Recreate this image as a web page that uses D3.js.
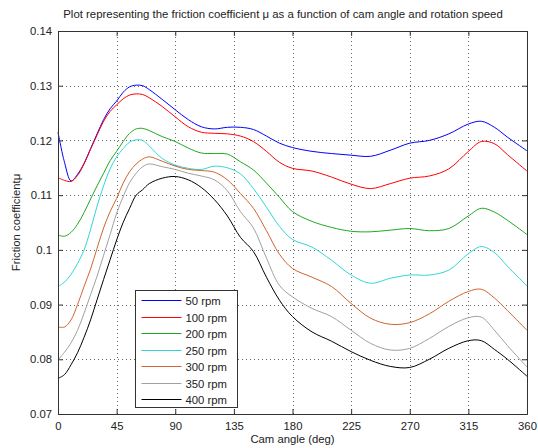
<!DOCTYPE html>
<html lang="en">
<head>
<meta charset="UTF-8">
<title>Friction coefficient</title>
<script src="https://d3js.org/d3.v7.min.js"></script>
<style>
  body { margin: 0; background: #fff; }
  text { font-family: "Liberation Sans", Arial, sans-serif; font-size: 11px; fill: #222; }
</style>
</head>
<body>
<script>
const w = 538;
const h = 448;
const margin = { top: 31, right: 11, bottom: 34, left: 58 };

// cam angle (deg), shared by every series
const angles = [0, 5, 10, 15, 20, 25, 30, 35, 40, 45, 50, 55, 60, 65, 70, 80, 90, 100, 110, 120,
                130, 140, 150, 160, 170, 180, 195, 210, 225, 240, 255, 270, 285, 300, 315, 325, 335, 345, 360];

const rpm50  = [0.1215, 0.1160, 0.1126, 0.1138, 0.1158, 0.1185, 0.1212, 0.1238, 0.1258, 0.1272, 0.1288, 0.1298, 0.1301, 0.1300, 0.1293, 0.1275, 0.1256, 0.1238, 0.1225, 0.1221,
                0.1224, 0.1224, 0.1220, 0.1208, 0.1195, 0.1187, 0.1180, 0.1176, 0.1173, 0.1171, 0.1182, 0.1195, 0.1200, 0.1212, 0.1230, 0.1235, 0.1224, 0.1206, 0.1181];
const rpm100 = [0.1132, 0.1127, 0.1125, 0.1136, 0.1157, 0.1184, 0.1210, 0.1235, 0.1253, 0.1265, 0.1276, 0.1283, 0.1285, 0.1284, 0.1278, 0.1262, 0.1243, 0.1225, 0.1215, 0.1213,
                0.1212, 0.1208, 0.1198, 0.1180, 0.1160, 0.1149, 0.1144, 0.1133, 0.1120, 0.1112, 0.1121, 0.1131, 0.1135, 0.1148, 0.1180, 0.1198, 0.1194, 0.1174, 0.1144];
const rpm200 = [0.1027, 0.1025, 0.1032, 0.1047, 0.1068, 0.1093, 0.1117, 0.1140, 0.1163, 0.1180, 0.1198, 0.1213, 0.1221, 0.1222, 0.1218, 0.1207, 0.1198, 0.1186, 0.1177, 0.1176,
                0.1175, 0.1161, 0.1146, 0.1122, 0.1096, 0.1070, 0.1052, 0.1041, 0.1034, 0.1033, 0.1036, 0.1039, 0.1035, 0.1039, 0.1062, 0.1076, 0.1069, 0.1054, 0.1028];
const rpm250 = [0.0933, 0.0941, 0.0955, 0.0975, 0.1000, 0.1037, 0.1080, 0.1117, 0.1148, 0.1170, 0.1185, 0.1197, 0.1201, 0.1200, 0.1190, 0.1167, 0.1155, 0.1149, 0.1147, 0.1153,
                0.1150, 0.1139, 0.1112, 0.1078, 0.1043, 0.1019, 0.1005, 0.0981, 0.0954, 0.0939, 0.0948, 0.0954, 0.0954, 0.0963, 0.0993, 0.1006, 0.0995, 0.0970, 0.0934];
const rpm300 = [0.0859, 0.0859, 0.0872, 0.0900, 0.0933, 0.0965, 0.1003, 0.1040, 0.1070, 0.1094, 0.1122, 0.1143, 0.1157, 0.1166, 0.1170, 0.1162, 0.1153, 0.1147, 0.1145, 0.1142,
                0.1128, 0.1103, 0.1076, 0.1035, 0.0992, 0.0966, 0.0950, 0.0933, 0.0902, 0.0875, 0.0864, 0.0867, 0.0883, 0.0906, 0.0924, 0.0928, 0.0912, 0.0889, 0.0853];
const rpm350 = [0.0799, 0.0813, 0.0830, 0.0853, 0.0884, 0.0918, 0.0952, 0.0990, 0.1028, 0.1067, 0.1097, 0.1123, 0.1140, 0.1152, 0.1157, 0.1152, 0.1147, 0.1140, 0.1135, 0.1128,
                0.1108, 0.1070, 0.1040, 0.0985, 0.0935, 0.0914, 0.0893, 0.0878, 0.0853, 0.0829, 0.0817, 0.0820, 0.0838, 0.0860, 0.0876, 0.0877, 0.0853, 0.0825, 0.0786];
const rpm400 = [0.0765, 0.0772, 0.0790, 0.0812, 0.0840, 0.0872, 0.0909, 0.0946, 0.0982, 0.1018, 0.1050, 0.1076, 0.1100, 0.1110, 0.1121, 0.1131, 0.1134, 0.1128, 0.1114, 0.1092,
                0.1062, 0.1023, 0.0997, 0.0950, 0.0908, 0.0878, 0.0850, 0.0833, 0.0814, 0.0798, 0.0787, 0.0785, 0.0800, 0.0820, 0.0834, 0.0834, 0.0818, 0.0800, 0.0769];

const seriesNames = ["50 rpm", "100 rpm", "200 rpm", "250 rpm", "300 rpm", "350 rpm", "400 rpm"];
const seriesValues = [rpm50, rpm100, rpm200, rpm250, rpm300, rpm350, rpm400];
const seriesColors = ["#0000ff", "#ff0000", "#1fa81f", "#33d6d6", "#d0642c", "#a0a0a0", "#000000"];

const xTicks = [0, 45, 90, 135, 180, 225, 270, 315, 360];
const yTicks = [0.07, 0.08, 0.09, 0.1, 0.11, 0.12, 0.13, 0.14];
const yTickLabels = ["0.07", "0.08", "0.09", "0.1", "0.11", "0.12", "0.13", "0.14"];

const svg = d3.select("body").append("svg")
    .attr("width", w)
    .attr("height", h);

const x = d3.scaleLinear().domain([0, 360]).range([margin.left, w - margin.right]);
const y = d3.scaleLinear().domain([0.07, 0.14]).range([h - margin.bottom, margin.top]);

// grid
svg.append("g")
   .selectAll("line")
   .data(xTicks.slice(1, -1))
   .enter().append("line")
   .attr("x1", d => Math.round(x(d)) + 0.5).attr("x2", d => Math.round(x(d)) + 0.5)
   .attr("y1", y(0.07)).attr("y2", y(0.14))
   .attr("stroke", "#666").attr("stroke-width", 1)
   .attr("stroke-dasharray", "1,3");

svg.append("g")
   .selectAll("line")
   .data(yTicks.slice(1, -1))
   .enter().append("line")
   .attr("y1", d => Math.round(y(d)) + 0.5).attr("y2", d => Math.round(y(d)) + 0.5)
   .attr("x1", x(0)).attr("x2", x(360))
   .attr("stroke", "#666").attr("stroke-width", 1)
   .attr("stroke-dasharray", "1,3");

// curves
const line = d3.line()
    .x((d, i) => x(angles[i]))
    .y(d => y(d))
    .curve(d3.curveCatmullRom.alpha(0.5));

svg.append("g")
   .selectAll("path")
   .data(seriesValues)
   .enter().append("path")
   .attr("d", d => line(d))
   .attr("fill", "none")
   .attr("stroke", (d, i) => seriesColors[i])
   .attr("stroke-width", 1);

// axes (ticks inside, box around)
const xAxis = d3.axisBottom(x).tickValues(xTicks).tickSize(-5).tickPadding(8).tickFormat(d3.format("d"));
const yAxis = d3.axisLeft(y).tickValues(yTicks).tickSize(-5).tickPadding(6).tickFormat((d, i) => yTickLabels[i]);

svg.append("g").attr("transform", `translate(0, ${y(0.07)})`).call(xAxis);
svg.append("g").attr("transform", `translate(${x(0)}, 0)`).call(yAxis);
svg.append("g").attr("transform", `translate(0, ${y(0.14)})`)
   .call(d3.axisTop(x).tickValues(xTicks).tickSize(-5).tickFormat(""));
svg.append("g").attr("transform", `translate(${x(360)}, 0)`)
   .call(d3.axisRight(y).tickValues(yTicks).tickSize(-5).tickFormat(""));

svg.selectAll(".domain").attr("stroke", "#333");
svg.selectAll(".tick line").attr("stroke", "#333");
svg.selectAll(".tick text").style("font-family", "Liberation Sans, Arial, sans-serif").style("font-size", "11.3px").attr("fill", "#222");

// title and axis labels
svg.append("text")
   .attr("x", 283)
   .attr("y", 18)
   .attr("text-anchor", "middle")
   .style("font-size", "11.4px")
   .text("Plot representing the friction coefficient \u03bc as a function of cam angle and rotation speed");

svg.append("text")
   .attr("x", (x(0) + x(360)) / 2)
   .attr("y", 443)
   .attr("text-anchor", "middle")
   .style("font-size", "11.3px")
   .text("Cam angle (deg)");

svg.append("text")
   .attr("transform", `translate(20, ${(y(0.07) + y(0.14)) / 2}) rotate(-90)`)
   .attr("text-anchor", "middle")
   .style("font-size", "11.3px")
   .text("Friction coefficient\u03bc");

// legend
const legend = svg.append("g").attr("transform", "translate(135.5, 290.5)");
legend.append("rect")
      .attr("width", 102).attr("height", 117)
      .attr("fill", "#fff").attr("stroke", "#333");

const items = legend.selectAll("g.item")
    .data(seriesNames)
    .enter().append("g")
    .attr("class", "item")
    .attr("transform", (d, i) => `translate(0, ${Math.round(10 + i * 16.5)})`);

items.append("line")
     .attr("x1", 6).attr("x2", 46)
     .attr("stroke-width", 1)
     .attr("stroke", (d, i) => seriesColors[i]);

items.append("text")
     .attr("x", 50).attr("y", 4)
     .style("font-size", "11.3px")
     .text(d => d);
</script>
</body>
</html>
